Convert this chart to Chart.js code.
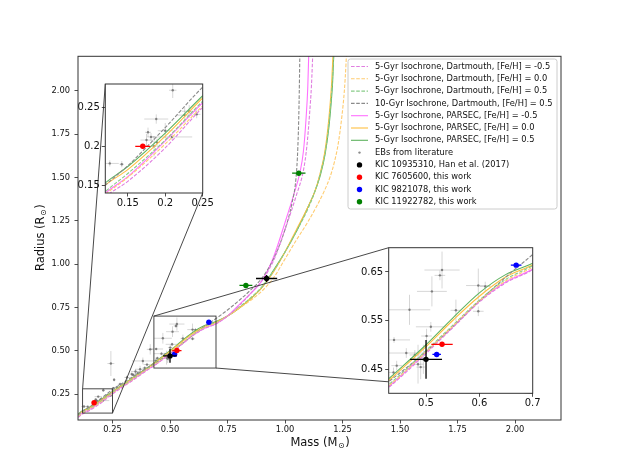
<!DOCTYPE html>
<html>
<head>
<meta charset="utf-8">
<script src="https://cdn.jsdelivr.net/npm/chart.js@4.4.0/dist/chart.umd.min.js"></script>
<style>
  html, body { margin: 0; padding: 0; background: #fff; }
  #wrap { position: relative; width: 623px; height: 473px; overflow: hidden; background: #fff; }
  #wrap canvas { position: absolute; }
</style>
</head>
<body>
<div id="wrap"></div>
<script>
// ---- axes ----
const massRange = [0.1, 2.2];
const radiusRange = [0.1, 2.2];
const massTicks = [0.25, 0.5, 0.75, 1.0, 1.25, 1.5, 1.75, 2.0];
const radiusTicks = [0.25, 0.5, 0.75, 1.0, 1.25, 1.5, 1.75, 2.0];

const inset1MassRange = [0.12, 0.25];
const inset1RadiusRange = [0.14, 0.28];
const inset1MassTicks = [0.15, 0.2, 0.25];
const inset1MassLabels = ['0.15', '0.2', '0.25'];
const inset1RadiusTicks = [0.15, 0.2, 0.25];
const inset1RadiusLabels = ['0.15', '0.2', '0.25'];

const inset2MassRange = [0.43, 0.7];
const inset2RadiusRange = [0.4, 0.7];
const inset2MassTicks = [0.5, 0.6, 0.7];
const inset2MassLabels = ['0.5', '0.6', '0.7'];
const inset2RadiusTicks = [0.45, 0.55, 0.65];
const inset2RadiusLabels = ['0.45', '0.55', '0.65'];

// ---- isochrones ----
const dartM05Mass = [0.1, 0.12, 0.15, 0.2, 0.25, 0.3, 0.35, 0.4, 0.43, 0.5, 0.55, 0.6, 0.65, 0.7, 0.75, 0.8, 0.85, 0.9, 0.95, 1.0, 1.05, 1.08, 1.095, 1.107, 1.115, 1.121, 1.124];
const dartM05Radius = [0.115, 0.135, 0.155, 0.198, 0.25, 0.295, 0.34, 0.387, 0.412, 0.482, 0.535, 0.588, 0.628, 0.655, 0.70, 0.76, 0.83, 0.905, 1.02, 1.2, 1.40, 1.54, 1.68, 1.87, 2.03, 2.22, 2.3];

const dart00Mass = [0.1, 0.12, 0.15, 0.2, 0.25, 0.3, 0.35, 0.4, 0.43, 0.5, 0.55, 0.6, 0.65, 0.7, 0.75, 0.8, 0.85, 0.9, 0.95, 1.0, 1.05, 1.1, 1.14, 1.17, 1.195, 1.215, 1.232, 1.247, 1.258, 1.265, 1.27];
const dart00Radius = [0.12, 0.138, 0.16, 0.203, 0.252, 0.297, 0.343, 0.39, 0.415, 0.485, 0.538, 0.59, 0.632, 0.66, 0.70, 0.745, 0.79, 0.845, 0.92, 1.03, 1.14, 1.245, 1.34, 1.42, 1.5, 1.59, 1.7, 1.85, 2.0, 2.15, 2.3];

const dartP05Mass = [0.1, 0.12, 0.15, 0.2, 0.25, 0.3, 0.35, 0.4, 0.43, 0.5, 0.55, 0.6, 0.65, 0.7, 0.75, 0.8, 0.85, 0.9, 0.95, 1.0, 1.05, 1.1, 1.13, 1.155, 1.175, 1.19, 1.2, 1.208, 1.215];
const dartP05Radius = [0.125, 0.142, 0.165, 0.208, 0.258, 0.303, 0.348, 0.395, 0.418, 0.488, 0.54, 0.592, 0.635, 0.663, 0.70, 0.75, 0.805, 0.87, 0.96, 1.07, 1.19, 1.32, 1.42, 1.53, 1.65, 1.8, 1.95, 2.1, 2.3];

const dart10GyrMass = [0.1, 0.12, 0.15, 0.2, 0.25, 0.3, 0.35, 0.4, 0.43, 0.5, 0.55, 0.6, 0.65, 0.7, 0.75, 0.8, 0.85, 0.9, 0.95, 1.0, 1.03, 1.048, 1.056, 1.061, 1.065];
const dart10GyrRadius = [0.13, 0.15, 0.175, 0.224, 0.276, 0.318, 0.36, 0.40, 0.424, 0.486, 0.537, 0.59, 0.64, 0.686, 0.735, 0.79, 0.85, 0.92, 1.03, 1.2, 1.35, 1.5, 1.68, 1.92, 2.25];

const parsecM05Mass = [0.1, 0.12, 0.15, 0.2, 0.25, 0.3, 0.35, 0.4, 0.43, 0.5, 0.55, 0.6, 0.65, 0.7, 0.75, 0.8, 0.85, 0.9, 0.95, 1.0, 1.04, 1.065, 1.08, 1.092, 1.099, 1.104];
const parsecM05Radius = [0.122, 0.14, 0.161, 0.207, 0.256, 0.30, 0.345, 0.39, 0.414, 0.485, 0.537, 0.59, 0.63, 0.656, 0.70, 0.765, 0.83, 0.905, 1.04, 1.24, 1.41, 1.53, 1.65, 1.85, 2.02, 2.25];

const parsec00Mass = [0.1, 0.12, 0.15, 0.2, 0.25, 0.3, 0.35, 0.4, 0.43, 0.5, 0.55, 0.6, 0.65, 0.7, 0.75, 0.8, 0.85, 0.9, 0.95, 1.0, 1.05, 1.1, 1.13, 1.152, 1.172, 1.186, 1.196, 1.203, 1.21];
const parsec00Radius = [0.13, 0.15, 0.17, 0.213, 0.262, 0.307, 0.352, 0.397, 0.426, 0.496, 0.55, 0.6, 0.64, 0.665, 0.70, 0.745, 0.80, 0.865, 0.955, 1.07, 1.2, 1.33, 1.42, 1.52, 1.64, 1.78, 1.92, 2.05, 2.25];

const parsecP05Mass = [0.1, 0.12, 0.15, 0.2, 0.25, 0.3, 0.35, 0.4, 0.43, 0.5, 0.55, 0.6, 0.65, 0.7, 0.75, 0.8, 0.85, 0.9, 0.95, 1.0, 1.05, 1.1, 1.13, 1.155, 1.175, 1.19, 1.2, 1.207, 1.213];
const parsecP05Radius = [0.135, 0.153, 0.174, 0.217, 0.265, 0.31, 0.355, 0.40, 0.43, 0.50, 0.555, 0.607, 0.645, 0.668, 0.70, 0.745, 0.80, 0.865, 0.965, 1.07, 1.19, 1.33, 1.42, 1.52, 1.64, 1.78, 1.92, 2.05, 2.25];

// ---- EBs from literature ----
const ebMass =      [0.21, 0.188, 0.177, 0.181, 0.175, 0.209, 0.185, 0.189, 0.126, 0.142, 0.242, 0.232, 0.2,
                     0.243, 0.257, 0.226, 0.254, 0.269, 0.283, 0.313, 0.334, 0.35, 0.36, 0.37, 0.382, 0.39, 0.414, 0.40, 0.34,
                     0.530, 0.526, 0.511, 0.469, 0.556, 0.509, 0.598, 0.611, 0.598, 0.44, 0.463, 0.501, 0.49, 0.445, 0.439, 0.479, 0.495, 0.485];
const ebMassErr =   [0.005, 0.016, 0.004, 0.005, 0.008, 0.027, 0.003, 0.004, 0.012, 0.003, 0.005, 0.01, 0.01,
                     0.015, 0.005, 0.01, 0.008, 0.02, 0.01, 0.012, 0.01, 0.02, 0.015, 0.02, 0.047, 0.01, 0.015, 0.015, 0.01,
                     0.033, 0.01, 0.028, 0.039, 0.01, 0.028, 0.023, 0.01, 0.01, 0.03, 0.033, 0.01, 0.008, 0.01, 0.01, 0.01, 0.005, 0.01];
const ebRadius =    [0.272, 0.235, 0.218, 0.212, 0.208, 0.212, 0.2, 0.205, 0.178, 0.177, 0.241, 0.245, 0.22,
                     0.426, 0.332, 0.24, 0.283, 0.288, 0.307, 0.346, 0.365, 0.38, 0.37, 0.393, 0.441, 0.40, 0.508, 0.42, 0.36,
                     0.654, 0.643, 0.61, 0.572, 0.571, 0.537, 0.622, 0.62, 0.569, 0.51, 0.483, 0.518, 0.454, 0.457, 0.443, 0.479, 0.47, 0.46];
const ebRadiusErr = [0.010, 0.006, 0.006, 0.005, 0.008, 0.004, 0.013, 0.005, 0.004, 0.004, 0.005, 0.008, 0.01,
                     0.072, 0.01, 0.01, 0.008, 0.01, 0.01, 0.01, 0.012, 0.015, 0.01, 0.02, 0.02, 0.01, 0.03, 0.01, 0.01,
                     0.038, 0.01, 0.031, 0.031, 0.022, 0.01, 0.035, 0.01, 0.01, 0.006, 0.01, 0.015, 0.025, 0.01, 0.01, 0.01, 0.03, 0.04];

// ---- systems ----
const kic10935310Mass = [0.50, 0.92];
const kic10935310MassErr = [0.03, 0.046];
const kic10935310Radius = [0.47, 0.917];
const kic10935310RadiusErr = [0.04, 0.02];

const kic7605600Mass = [0.17, 0.53];
const kic7605600MassErr = [0.01, 0.02];
const kic7605600Radius = [0.20, 0.501];
const kic7605600RadiusErr = [0.003, 0.004];

const kic9821078Mass = [0.52, 0.669];
const kic9821078MassErr = [0.008, 0.01];
const kic9821078Radius = [0.48, 0.664];
const kic9821078RadiusErr = [0.004, 0.004];

const kic11922782Mass = [0.83, 1.06];
const kic11922782MassErr = [0.028, 0.029];
const kic11922782Radius = [0.877, 1.525];
const kic11922782RadiusErr = [0.01, 0.01];

const FONT = '"DejaVu Sans", sans-serif';

function xy(mass, radius) {
  return mass.map((m, i) => ({ x: m, y: radius[i] }));
}

function isoDataset(label, mass, radius, color, dashed) {
  return {
    label, data: xy(mass, radius), showLine: true,
    borderColor: color, backgroundColor: color, borderWidth: 1.1,
    borderDash: dashed ? [3.6, 1.6] : [], pointRadius: 0,
    cubicInterpolationMode: 'monotone', order: 5, kind: 'line'
  };
}

function pointDataset(label, mass, massErr, radius, radiusErr, color, size, errColor, errWidth, order) {
  return {
    label, data: xy(mass, radius), showLine: false,
    backgroundColor: color, borderColor: color, borderWidth: 0,
    pointRadius: size, pointHoverRadius: size,
    errX: massErr, errY: radiusErr, errColor, errWidth, order, kind: 'point'
  };
}

function makeDatasets() {
  return [
    isoDataset('5-Gyr Isochrone, Dartmouth, [Fe/H] = -0.5', dartM05Mass, dartM05Radius, '#e07ee0', true),
    isoDataset('5-Gyr Isochrone, Dartmouth, [Fe/H] = 0.0', dart00Mass, dart00Radius, '#ffcc70', true),
    isoDataset('5-Gyr Isochrone, Dartmouth, [Fe/H] = 0.5', dartP05Mass, dartP05Radius, '#88cc88', true),
    isoDataset('10-Gyr Isochrone, Dartmouth, [Fe/H] = 0.5', dart10GyrMass, dart10GyrRadius, '#8a8a8a', true),
    isoDataset('5-Gyr Isochrone, PARSEC, [Fe/H] = -0.5', parsecM05Mass, parsecM05Radius, '#ff70ff', false),
    isoDataset('5-Gyr Isochrone, PARSEC, [Fe/H] = 0.0', parsec00Mass, parsec00Radius, '#ffbf40', false),
    isoDataset('5-Gyr Isochrone, PARSEC, [Fe/H] = 0.5', parsecP05Mass, parsecP05Radius, '#5fb35f', false),
    pointDataset('EBs from literature', ebMass, ebMassErr, ebRadius, ebRadiusErr, 'rgba(100,100,100,0.75)', 1.2, 'rgba(0,0,0,0.16)', 1, 10),
    pointDataset('KIC 10935310, Han et al. (2017)', kic10935310Mass, kic10935310MassErr, kic10935310Radius, kic10935310RadiusErr, '#000000', 2.7, '#000000', 1.3, 1),
    pointDataset('KIC 7605600, this work', kic7605600Mass, kic7605600MassErr, kic7605600Radius, kic7605600RadiusErr, '#ff0000', 2.7, '#ff0000', 1.3, 1),
    pointDataset('KIC 9821078, this work', kic9821078Mass, kic9821078MassErr, kic9821078Radius, kic9821078RadiusErr, '#0000ff', 2.7, '#0000ff', 1.3, 1),
    pointDataset('KIC 11922782, this work', kic11922782Mass, kic11922782MassErr, kic11922782Radius, kic11922782RadiusErr, '#008000', 2.7, '#008000', 1.3, 1)
  ];
}

// error bars under each point dataset
const errorBarPlugin = {
  id: 'errorBars',
  beforeDatasetDraw(chart, args) {
    const ds = chart.data.datasets[args.index];
    if (!ds.errX) return;
    const { ctx, chartArea: a } = chart;
    const x = chart.scales.x, y = chart.scales.y;
    ctx.save();
    ctx.beginPath();
    ctx.rect(a.left, a.top, a.right - a.left, a.bottom - a.top);
    ctx.clip();
    ctx.strokeStyle = ds.errColor;
    ctx.lineWidth = ds.errWidth;
    ds.data.forEach((p, i) => {
      const px = x.getPixelForValue(p.x), py = y.getPixelForValue(p.y);
      ctx.beginPath();
      ctx.moveTo(x.getPixelForValue(p.x - ds.errX[i]), py);
      ctx.lineTo(x.getPixelForValue(p.x + ds.errX[i]), py);
      ctx.stroke();
      ctx.beginPath();
      ctx.moveTo(px, y.getPixelForValue(p.y - ds.errY[i]));
      ctx.lineTo(px, y.getPixelForValue(p.y + ds.errY[i]));
      ctx.stroke();
    });
    ctx.restore();
  }
};

const framePlugin = {
  id: 'frame',
  beforeDraw(chart) {
    const { ctx, chartArea: a } = chart;
    ctx.save();
    ctx.fillStyle = '#ffffff';
    ctx.fillRect(a.left, a.top, a.right - a.left, a.bottom - a.top);
    ctx.restore();
  },
  afterDraw(chart) {
    const { ctx, chartArea: a } = chart;
    ctx.save();
    ctx.strokeStyle = '#333';
    ctx.lineWidth = 1;
    ctx.strokeRect(a.left, a.top, a.right - a.left, a.bottom - a.top);
    ctx.restore();
  }
};

function makeChart(box, area, xr, yr, xt, yt, xLab, yLab, fontSize, extraPlugins) {
  const wrap = document.getElementById('wrap');
  const c = document.createElement('canvas');
  c.width = box.w; c.height = box.h;
  c.style.left = box.left + 'px'; c.style.top = box.top + 'px';
  wrap.appendChild(c);
  const tickFont = { family: FONT, size: fontSize };
  return new Chart(c, {
    type: 'scatter',
    data: { datasets: makeDatasets() },
    options: {
      responsive: false, animation: false, events: [],
      layout: { padding: { left: 0, top: area.top - box.top, right: box.left + box.w - area.right, bottom: 0 } },
      plugins: { legend: { display: false }, tooltip: { enabled: false } },
      scales: {
        x: {
          type: 'linear', min: xr[0], max: xr[1],
          afterBuildTicks: s => { s.ticks = xt.map(v => ({ value: v })); },
          afterFit: s => { s.height = box.top + box.h - area.bottom; },
          ticks: { font: tickFont, color: '#111', padding: fontSize > 9 ? 0.5 : 1, autoSkip: false, maxRotation: 0,
                   callback: (v, i) => xLab[i] },
          grid: { drawOnChartArea: false, tickLength: 3.5, color: '#222', lineWidth: 0.8 },
          border: { display: false }
        },
        y: {
          type: 'linear', min: yr[0], max: yr[1],
          afterBuildTicks: s => { s.ticks = yt.map(v => ({ value: v })); },
          afterFit: s => { s.width = area.left - box.left; },
          ticks: { font: tickFont, color: '#111', padding: fontSize > 9 ? 2 : 4.5, autoSkip: false,
                   callback: (v, i) => yLab[i] },
          grid: { drawOnChartArea: false, tickLength: 3.5, color: '#222', lineWidth: 0.8 },
          border: { display: false }
        }
      }
    },
    plugins: [framePlugin, errorBarPlugin].concat(extraPlugins || [])
  });
}

// ---- insets ----
const inset1Box = { left: 55, top: 74, w: 165, h: 145 };
const inset1Area = { left: 105.3, top: 84, right: 202.7, bottom: 193 };
const inset2Box = { left: 340, top: 238, w: 210, h: 180 };
const inset2Area = { left: 388.7, top: 247.7, right: 532.7, bottom: 393.3 };

const insets = [];

function subLabel(ctx, parts, cx, cy, size) {
  // parts: [main, sub, tail]
  const big = size + 'px ' + FONT, small = (size * 0.7) + 'px ' + FONT;
  ctx.font = big; const w1 = ctx.measureText(parts[0]).width; const w3 = ctx.measureText(parts[2]).width;
  ctx.font = small; const w2 = ctx.measureText(parts[1]).width;
  let x0 = cx - (w1 + w2 + w3) / 2;
  ctx.textBaseline = 'middle'; ctx.textAlign = 'left';
  ctx.font = big; ctx.fillText(parts[0], x0, cy);
  ctx.font = small; ctx.fillText(parts[1], x0 + w1 + 0.5, cy + size * 0.25);
  ctx.font = big; ctx.fillText(parts[2], x0 + w1 + w2 + 1, cy);
}

const mainDecor = {
  id: 'mainDecor',
  afterDraw(chart) {
    const { ctx } = chart;
    const x = chart.scales.x, y = chart.scales.y;
    ctx.save();
    // zoom boxes and connectors
    ctx.strokeStyle = '#333';
    ctx.lineWidth = 0.9;
    insets.forEach(ins => {
      const a = ins.chart.chartArea;
      const x0 = x.getPixelForValue(ins.xr[0]), x1 = x.getPixelForValue(ins.xr[1]);
      const y0 = y.getPixelForValue(ins.yr[1]), y1 = y.getPixelForValue(ins.yr[0]);
      ctx.strokeRect(x0, y0, x1 - x0, y1 - y0);
      ctx.beginPath();
      ctx.moveTo(x0, y0); ctx.lineTo(ins.box.left + a.left, ins.box.top + a.top);
      ctx.moveTo(x1, y1); ctx.lineTo(ins.box.left + a.right, ins.box.top + a.bottom);
      ctx.stroke();
    });

    // legend
    const lx = 348, ly = 59, lw = 209, lh = 150, r = 2.5;
    ctx.beginPath();
    ctx.moveTo(lx + r, ly); ctx.lineTo(lx + lw - r, ly); ctx.quadraticCurveTo(lx + lw, ly, lx + lw, ly + r);
    ctx.lineTo(lx + lw, ly + lh - r); ctx.quadraticCurveTo(lx + lw, ly + lh, lx + lw - r, ly + lh);
    ctx.lineTo(lx + r, ly + lh); ctx.quadraticCurveTo(lx, ly + lh, lx, ly + lh - r);
    ctx.lineTo(lx, ly + r); ctx.quadraticCurveTo(lx, ly, lx + r, ly);
    ctx.closePath();
    ctx.fillStyle = 'rgba(255,255,255,0.85)';
    ctx.fill();
    ctx.strokeStyle = '#cccccc';
    ctx.lineWidth = 1;
    ctx.stroke();

    ctx.font = '8.3px ' + FONT;
    ctx.textBaseline = 'middle';
    ctx.textAlign = 'left';
    chart.data.datasets.forEach((ds, i) => {
      const ry = 66.5 + i * 12.3;
      if (ds.kind === 'line') {
        ctx.strokeStyle = ds.borderColor;
        ctx.lineWidth = 1.1;
        ctx.setLineDash(ds.borderDash);
        ctx.beginPath(); ctx.moveTo(351, ry); ctx.lineTo(368, ry); ctx.stroke();
        ctx.setLineDash([]);
      } else {
        ctx.fillStyle = ds.backgroundColor;
        ctx.beginPath(); ctx.arc(359.5, ry, ds.pointRadius, 0, Math.PI * 2); ctx.fill();
      }
      ctx.fillStyle = '#111';
      ctx.fillText(ds.label, 375, ry);
    });

    // axis titles
    ctx.fillStyle = '#111';
    subLabel(ctx, ['Mass (M', '\u2299', ')'], (chart.chartArea.left + chart.chartArea.right) / 2, 443.5, 11.5);
    ctx.save();
    ctx.translate(41.5, (chart.chartArea.top + chart.chartArea.bottom) / 2);
    ctx.rotate(-Math.PI / 2);
    subLabel(ctx, ['Radius (R', '\u2299', ')'], 0, 0, 11.5);
    ctx.restore();
    ctx.restore();
  }
};

const fmt2 = massTicks.map(v => v.toFixed(2));
const fmt2r = radiusTicks.map(v => v.toFixed(2));

const wrapEl = document.getElementById('wrap');
const mainBox = { left: 0, top: 0, w: 623, h: 473 };
const mainArea = { left: 78, top: 56.3, right: 561, bottom: 420 };

const inset1Chart = makeChart(inset1Box, inset1Area, inset1MassRange, inset1RadiusRange,
  inset1MassTicks, inset1RadiusTicks, inset1MassLabels, inset1RadiusLabels, 10);
insets.push({ chart: inset1Chart, box: inset1Box, xr: inset1MassRange, yr: inset1RadiusRange });
const inset2Chart = makeChart(inset2Box, inset2Area, inset2MassRange, inset2RadiusRange,
  inset2MassTicks, inset2RadiusTicks, inset2MassLabels, inset2RadiusLabels, 10);
insets.push({ chart: inset2Chart, box: inset2Box, xr: inset2MassRange, yr: inset2RadiusRange });

const mainChart = makeChart(mainBox, mainArea, massRange, radiusRange,
  massTicks, radiusTicks, fmt2, fmt2r, 8.3, [mainDecor]);
// main canvas goes beneath the insets
wrapEl.insertBefore(mainChart.canvas, wrapEl.firstChild);
</script>
</body>
</html>
